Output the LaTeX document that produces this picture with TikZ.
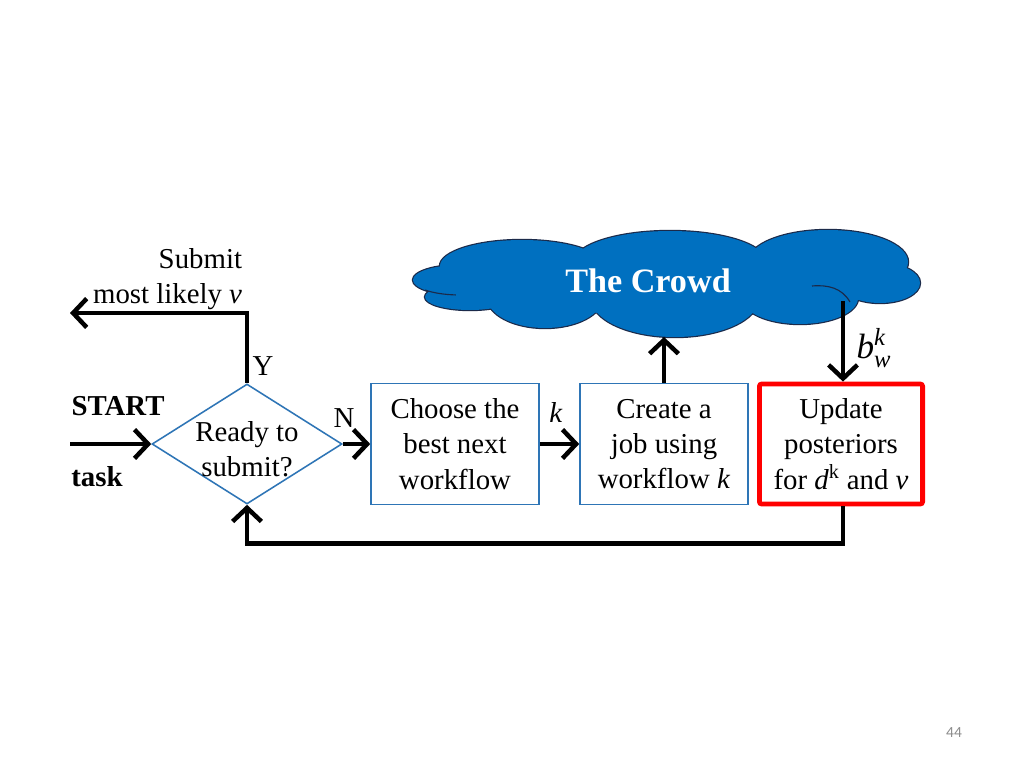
\documentclass[tikz,border=0pt]{standalone}
\usepackage{amsmath}
\usepackage{fontspec}
\setmainfont{Liberation Serif}
\newfontfamily\slidefont{Carlito}
\usepackage{tikz}
\usetikzlibrary{arrows.meta,positioning,calc,shapes.geometric}
\definecolor{WFBlue}{HTML}{2E75B6}
\definecolor{WFCloud}{HTML}{0070C0}
\definecolor{WFCloudEdge}{HTML}{1B2A4A}
\definecolor{WFRed}{HTML}{FF0000}
\definecolor{WFGray}{HTML}{8C8C8C}
\tikzset{
  flow/.style={-{Straight Barb[length=3.4mm,width=7.2mm,line width=3.2pt]},black,line width=3.4pt},
  stage/.style={draw=WFBlue,line width=1.1pt,fill=white,minimum width=4.2cm,minimum height=3.02cm,
                inner sep=0pt,align=center,font=\fontsize{20.5}{25}\selectfont},
  stagered/.style={stage,draw=WFRed,line width=3.4pt,rounded corners=0.6mm,minimum width=4.08cm,minimum height=3.0cm},
  decision/.style={diamond,draw=WFBlue,line width=1.1pt,fill=white,minimum width=4.75cm,minimum height=3cm,inner sep=0pt},
  puffedge/.style={draw=WFCloudEdge,line width=1.7pt,fill=WFCloud},
  puff/.style={fill=WFCloud},
  crowdline/.style={draw=WFCloudEdge,line width=0.8pt},
  label/.style={font=\fontsize{20.5}{25}\selectfont,align=center},
  boldlabel/.style={label,font=\fontsize{20.5}{25}\selectfont\bfseries},
}

\begin{document}
\begin{tikzpicture}[x=0.025cm,y=-0.025cm]
    \path[use as bounding box,fill=white] (0,0) rectangle (1024,768);

    % the crowd: puffs outlined, then filled again
    \foreach \cx/\cy/\rx/\ry in {460/280/47/15, 470/297/45/13, 522/266/82/26, 670/262/96/31,
                                 828/262/80/32, 880/283/40/20, 800/298/58/26, 675/298/84/39, 545/297/58/31}
      \path[puffedge] (\cx,\cy) ellipse[x radius=\rx,y radius=\ry];
    \foreach \cx/\cy/\rx/\ry in {460/280/47/15, 470/297/45/13, 522/266/82/26, 670/262/96/31,
                                 828/262/80/32, 880/283/40/20, 800/298/58/26, 675/298/84/39, 545/297/58/31,
                                 665/285/180/30}
      \path[puff] (\cx,\cy) ellipse[x radius=\rx,y radius=\ry];
    \draw[crowdline] (460,280) ++(138:47 and 15) arc[start angle=138,end angle=95,x radius=47,y radius=15];
    \draw[crowdline] (812,286) to[out=5,in=120] (850,302);
    \node[text=white,font=\fontsize{24.3}{28}\selectfont\bfseries] (crowd) at (648,281) {The Crowd};
    \coordinate (crowdbase) at (664,337);
    \coordinate (crowdfoot) at (843,301);

    % flow chart
    \node[decision] (ready) at (247,444) {};
    \node[label] (readytext) at (247,449) {Ready to\\submit?};
    \node[stage] (choose) at (455,444) {Choose the\\best next\\workflow};
    \node[stage] (create) at (664,444) {Create a\\job using\\workflow \textit{k}};
    \node[stagered] (update) at (841,444) {Update\\posteriors\\for \textit{d}\textsuperscript{k} and \textit{v}};

    \coordinate (start) at (70,444);
    \coordinate (submit) at (70,313);

    \draw[flow] (start) -- (ready.west);
    \draw[flow] (ready.north) |- (submit);
    \draw[flow] (ready.east) -- (choose.west |- ready.east);
    \draw[flow] (choose.east |- ready.east) -- (create.west |- ready.east);
    \draw[flow] (create.north) -- (crowdbase);
    \draw[flow] (crowdfoot) -- (update.north -| crowdfoot);
    \draw[flow] (update.south -| crowdfoot) -- ++(0,37) -| (ready.south);

    % labels
    \node[label,align=right,anchor=east] (submitlabel) at (247,279) {Submit\\most likely \textit{v}};
    \node[label] (yes) at (263,366) {Y};
    \node[label] (no) at (344,418) {N};
    \node[label] (klabel) at (556,412) {\textit{k}};
    \node[boldlabel] (startlabel) at (118,406) {START};
    \node[boldlabel] (tasklabel) at (97,477) {task};
    \node[label,font=\fontsize{25}{28}\selectfont] (blabel) at (874,348) {\textit{b}$^{\textit{k}}_{\textit{w}}$};
    \node[text=WFGray,font=\slidefont\fontsize{11}{13}\selectfont] (pagenum) at (954,733) {44};
  \end{tikzpicture}
\end{document}
